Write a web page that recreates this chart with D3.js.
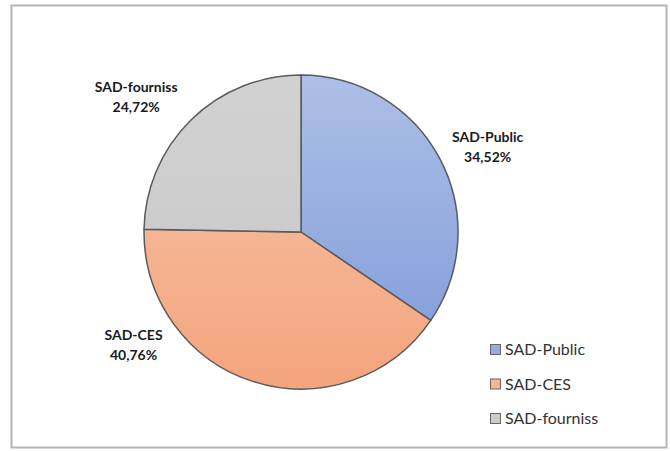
<!DOCTYPE html>
<html>
<head>
<meta charset="utf-8">
<script src="https://cdn.jsdelivr.net/npm/d3@7"></script>
<style>
  body { margin: 0; background: #fff; }
  text { font-family: Lato, "Open Sans", sans-serif; }
</style>
</head>
<body>
<div id="chart"></div>
<script>
// chart data
var labels = ["SAD-Public", "SAD-CES", "SAD-fourniss"];
var shares = [34.52, 40.76, 24.72];
var pctText = ["34,52%", "40,76%", "24,72%"];
var colTop = ["#adbfe6", "#f7c5ad", "#d2d2d2"];
var colBot = ["#7d99d8", "#f4a47c", "#c6c6c6"];

// where Excel put each data label: angle (deg from 12 o'clock) and distance
var labAngle = [65.6, 236, 309.3];
var labDist = [205, 202, 213];

var width = 670, height = 451;
var cx = 301, cy = 232, r = 157;

var svg = d3.select("#chart").append("svg")
    .attr("width", width)
    .attr("height", height);

// frame round the chart area
svg.append("rect")
    .attr("x", 11.5).attr("y", 5.5)
    .attr("width", 655).attr("height", 442)
    .attr("fill", "#fff")
    .attr("stroke", "#b4b4b4")
    .attr("stroke-width", 2);

var defs = svg.append("defs");
labels.forEach(function(l, i) {
    var g = defs.append("linearGradient")
        .attr("id", "grad" + i)
        .attr("gradientUnits", "userSpaceOnUse")
        .attr("x1", 0).attr("y1", -r)
        .attr("x2", 0).attr("y2", r);
    g.append("stop").attr("offset", "0%").attr("stop-color", colTop[i]);
    g.append("stop").attr("offset", "100%").attr("stop-color", colBot[i]);
});

var pie = d3.pie().sort(null).value(function(d) { return d; });
var arc = d3.arc().innerRadius(0).outerRadius(r);
var arcs = pie(shares);

var g = svg.append("g").attr("transform", "translate(" + cx + "," + cy + ")");

g.selectAll("path")
    .data(arcs).enter()
    .append("path")
    .attr("d", arc)
    .attr("fill", function(d, i) { return "url(#grad" + i + ")"; })
    .attr("stroke", "#5a5a5a")
    .attr("stroke-width", 1.5)
    .attr("stroke-linejoin", "round");

// data labels outside the pie
var lab = g.selectAll(".lab")
    .data(arcs).enter()
    .append("text")
    .attr("class", "lab")
    .attr("text-anchor", "middle")
    .attr("font-weight", "bold")
    .attr("font-size", "14px")
    .attr("fill", "#1a1a1a")
    .attr("transform", function(d, i) {
        var c = d3.pointRadial(labAngle[i] * Math.PI / 180, labDist[i]);
        return "translate(" + c[0] + "," + c[1] + ")";
    });
lab.append("tspan").attr("x", 0).attr("y", -5).text(function(d, i) { return labels[i]; });
lab.append("tspan").attr("x", 0).attr("y", 15).text(function(d, i) { return pctText[i]; });

// legend
var legend = svg.append("g").attr("transform", "translate(490,344)");
var items = legend.selectAll("g")
    .data(labels).enter()
    .append("g")
    .attr("transform", function(d, i) { return "translate(0," + (i * 34.5) + ")"; });
items.append("rect")
    .attr("x", 0.5).attr("y", 0.5)
    .attr("width", 10).attr("height", 10)
    .attr("fill", function(d, i) { return d3.interpolateRgb(colTop[i], colBot[i])(0.5); })
    .attr("stroke", "#666")
    .attr("stroke-width", 1);
items.append("text")
    .attr("x", 15).attr("y", 11)
    .attr("font-size", "16px")
    .attr("fill", "#333")
    .text(function(d) { return d; });
</script>
</body>
</html>
